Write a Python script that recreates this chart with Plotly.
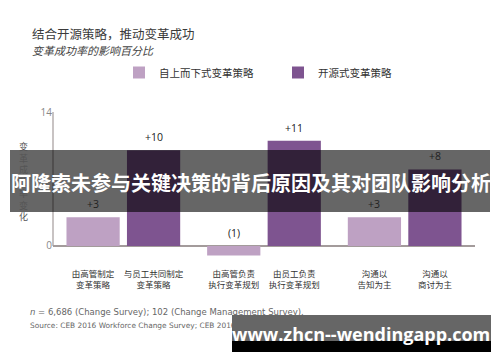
import plotly.graph_objects as go

# ---------------- data ----------------
groups = [0, 1, 2]
series_names = ["自上而下式变革策略", "开源式变革策略"]
top_down = [3, -1, 3]
open_source = [10, 11, 8]
bar_labels = [
    "由高管制定<br>变革策略", "与员工共同制定<br>变革策略",
    "由高管负责<br>执行变革规划", "由员工负责<br>执行变革规划",
    "沟通以<br>告知为主", "沟通以<br>商讨为主",
]
y_ticks = [0, 14]
title = "结合开源策略，推动变革成功"
subtitle = "变革成功率的影响百分比"
y_title = "变革成功率变化"
note1 = "<i>n</i> = 6,686 (Change Survey); 102 (Change Management Survey)."
note2 = "Source: CEB 2016 Workforce Change Survey; CEB 2016 Change Management Head of Function Survey."
watermark = "阿隆索未参与关键决策的背后原因及其对团队影响分析"
site = "www.zhcn--wendingapp.com"

# ---------------- style ----------------
W, H = 500, 362
ML, MR, MT, MB = 53, 25, 112, 106
PW, PH = W - ML - MR, H - MT - MB
LIGHT = "#BEA1C3"
DARK = "#7E5490"
AXIS = "#A39B9B"
CJK = "Noto Sans CJK SC"
LAT = "Open Sans"
NOTE = "DejaVu Sans"
BARGAP, GROUPGAP = 0.14, 0.12
off = (1 - BARGAP) / 4  # center offset of each bar in a group


def px(x):
    return (x - ML) / PW


def py(y):
    return (H - MB - y) / PH


fig = go.Figure()
for name, vals, col in [(series_names[0], top_down, LIGHT), (series_names[1], open_source, DARK)]:
    fig.add_trace(go.Bar(x=groups, y=vals, name=name, marker=dict(color=col, line=dict(width=0))))

ann = []
for k, vals in enumerate([top_down, open_source]):
    sgn = -1 if k == 0 else 1
    for g, v in zip(groups, vals):
        ann.append(dict(x=g + sgn * off, y=max(v, 0), xref="x", yref="y",
                        text=(f"+{v}" if v > 0 else f"({abs(v)})"), showarrow=False,
                        yanchor="bottom", yshift=4,
                        font=dict(family=LAT, size=10.5, color="#222")))

tickvals = []
for g in groups:
    tickvals += [g - off, g + off]

# titles
ann.append(dict(x=px(30), y=py(33), xref="paper", yref="paper", text=title, showarrow=False,
                xanchor="left", yanchor="middle", font=dict(family=CJK, size=12.5, color="#3a3a3a")))
ann.append(dict(x=px(30), y=py(50), xref="paper", yref="paper", text=f"<i>{subtitle}</i>", showarrow=False,
                xanchor="left", yanchor="middle", font=dict(family=CJK, size=11, color="#444")))
# y title, stacked vertically
ann.append(dict(x=px(23), y=py(181), xref="paper", yref="paper", text="<br>".join(y_title), showarrow=False,
                xanchor="center", yanchor="middle", font=dict(family=CJK, size=9, color="#555")))
# notes
ann.append(dict(x=px(28), y=py(312), xref="paper", yref="paper", text=note1, showarrow=False,
                xanchor="left", yanchor="middle", font=dict(family=NOTE, size=8.5, color="#666")))
ann.append(dict(x=px(28), y=py(325), xref="paper", yref="paper", text=note2, showarrow=False,
                xanchor="left", yanchor="middle", font=dict(family=NOTE, size=7.4, color="#666")))
# watermarks
ann.append(dict(x=px(251), y=py(182), xref="paper", yref="paper", text=f"<b>{watermark}</b>", showarrow=False,
                xanchor="center", yanchor="middle", font=dict(family=CJK, size=20, color="white")))
ann.append(dict(x=px(361), y=py(334), xref="paper", yref="paper", text=f"<b>{site}</b>", showarrow=False,
                xanchor="center", yanchor="middle", font=dict(family=LAT, size=18, color="white")))

shapes = [
    dict(type="line", xref="paper", yref="y", x0=0, x1=0, y0=0, y1=14, line=dict(color=AXIS, width=1.2)),
    dict(type="rect", xref="paper", yref="paper", x0=px(10), x1=px(490), y0=py(150), y1=py(212),
         fillcolor="rgba(0,0,0,0.6)", line=dict(width=0), layer="above"),
    dict(type="rect", xref="paper", yref="paper", x0=px(232), x1=px(491), y0=py(315), y1=py(341),
         fillcolor="rgba(0,0,0,0.6)", line=dict(width=0), layer="above"),
    dict(type="rect", xref="paper", yref="paper", x0=px(232), x1=px(491), y0=py(341), y1=py(352),
         fillcolor="black", line=dict(width=0), layer="above"),
]

fig.update_layout(
    width=W, height=H, margin=dict(l=ML, r=MR, t=MT, b=MB),
    paper_bgcolor="white", plot_bgcolor="white",
    barmode="group", bargap=BARGAP, bargroupgap=GROUPGAP,
    showlegend=True,
    legend=dict(orientation="h", x=px(119), y=py(72.5), xanchor="left", yanchor="middle",
                font=dict(family=CJK, size=10.5, color="#333"), entrywidth=114,
                bgcolor="rgba(0,0,0,0)", traceorder="normal"),
    xaxis=dict(range=[-0.5, 2.5], tickvals=tickvals, ticktext=bar_labels, showgrid=False,
               zeroline=False, showline=False, ticks="outside", ticklen=10, tickcolor="rgba(0,0,0,0)",
               tickfont=dict(family=CJK, size=8.5, color="#333"), fixedrange=True),
    yaxis=dict(range=[-1.05, 14], tickvals=y_ticks, showgrid=False, zeroline=True,
               zerolinecolor=AXIS, zerolinewidth=1.5, showline=False,
               tickfont=dict(family=LAT, size=10, color="#888"), fixedrange=True),
    annotations=ann, shapes=shapes,
)

fig.write_html("out.html", config={"displayModeBar": False},
               post_script="document.body.style.margin='0';document.body.style.overflow='hidden';")
